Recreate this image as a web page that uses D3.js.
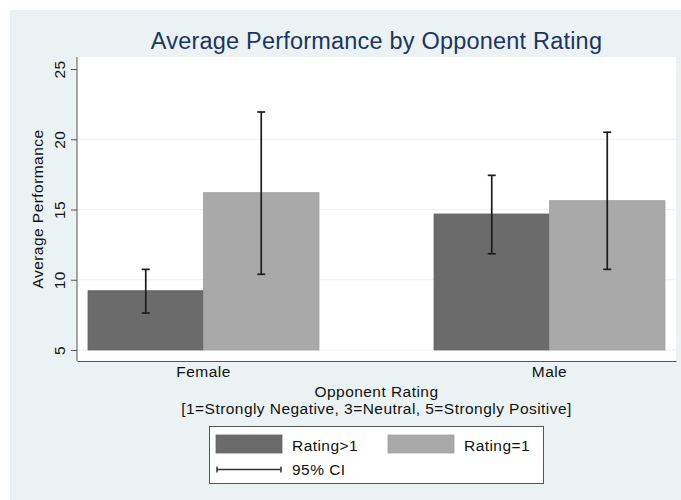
<!DOCTYPE html>
<html>
<head>
<meta charset="utf-8">
<script src="https://cdn.jsdelivr.net/npm/d3@7"></script>
<style>
  body { margin: 0; background: #fff; }
  svg { display: block; font-family: "Liberation Sans", Arial, Helvetica, sans-serif; }
  .lbl { font-size: 15.5px; letter-spacing: 0.45px; fill: #111; }
</style>
</head>
<body>
<svg id="chart" width="681" height="500"></svg>
<script>
/* Average performance by opponent rating, bars with 95% CI. */

const groups = ["Female", "Male"];
const series = ["Rating>1", "Rating=1"];
const means = [[9.22, 16.2], [14.68, 15.63]];
const lower = [[7.63, 10.39], [11.85, 10.74]];
const upper = [[10.74, 21.94], [17.43, 20.5]];
const yTicks = [5, 10, 15, 20, 25];
const gridTicks = [5, 10, 15, 20];

const colors = { "Rating>1": "#6b6b6b", "Rating=1": "#a9a9a9" };
const bg = "#eaf2f3";

const svg = d3.select("#chart");

// outer graph region
svg.append("rect")
  .attr("x", 10).attr("y", 10)
  .attr("width", 671).attr("height", 490)
  .attr("fill", bg);

const plot = { left: 77, right: 676, top: 57, bottom: 361 };

svg.append("rect")
  .attr("x", plot.left).attr("y", plot.top)
  .attr("width", plot.right - plot.left)
  .attr("height", plot.bottom - plot.top)
  .attr("fill", "#fff");

const x0 = d3.scaleBand()
  .domain(groups)
  .range([plot.left, plot.right])
  .paddingInner(0.3324)
  .paddingOuter(0.0318);

const x1 = d3.scaleBand()
  .domain(series)
  .range([0, x0.bandwidth()]);

const y = d3.scaleLinear().domain([5, 25]).range([350, 69]);

// gridlines
svg.append("g")
  .selectAll("line")
  .data(gridTicks)
  .join("line")
  .attr("x1", plot.left).attr("x2", plot.right)
  .attr("y1", (d) => y(d)).attr("y2", (d) => y(d))
  .attr("stroke", bg)
  .attr("stroke-width", 1.2);

// flatten rows
const rows = [];
groups.forEach((g, i) => {
  series.forEach((s, j) => {
    rows.push({ g, s, mean: means[i][j], lo: lower[i][j], hi: upper[i][j] });
  });
});

svg.append("g")
  .selectAll("rect")
  .data(rows)
  .join("rect")
  .attr("x", (d) => x0(d.g) + x1(d.s))
  .attr("width", x1.bandwidth())
  .attr("y", (d) => y(d.mean))
  .attr("height", (d) => y(5) - y(d.mean))
  .attr("fill", (d) => colors[d.s])
  .attr("stroke", (d) => d3.color(colors[d.s]).darker(0.15))
  .attr("stroke-width", 0.8);

// CI whiskers
const capW = 4;
const ci = svg.append("g")
  .attr("stroke", "#1c1c1c")
  .attr("stroke-width", 1.7)
  .selectAll("g")
  .data(rows)
  .join("g")
  .attr("transform", (d) => `translate(${x0(d.g) + x1(d.s) + x1.bandwidth() / 2},0)`);
ci.append("line")
  .attr("y1", (d) => y(d.lo)).attr("y2", (d) => y(d.hi));
ci.append("line")
  .attr("x1", -capW).attr("x2", capW)
  .attr("y1", (d) => y(d.hi)).attr("y2", (d) => y(d.hi));
ci.append("line")
  .attr("x1", -capW).attr("x2", capW)
  .attr("y1", (d) => y(d.lo)).attr("y2", (d) => y(d.lo));

// y axis
const yAxis = svg.append("g")
  .attr("transform", `translate(${plot.left},0)`)
  .call(d3.axisLeft(y).tickValues(yTicks).tickSize(6).tickSizeOuter(0));
yAxis.select(".domain").remove();
yAxis.selectAll(".tick line").attr("stroke", "#555");
yAxis.selectAll(".tick text")
  .attr("class", "lbl")
  .attr("transform", "rotate(-90)")
  .attr("x", 0).attr("y", -12).attr("dy", 0)
  .attr("text-anchor", "middle")
  .attr("font-size", null)
  .attr("font-family", null)
  .attr("fill", null);
svg.append("line")
  .attr("x1", plot.left).attr("x2", plot.left)
  .attr("y1", plot.top).attr("y2", plot.bottom)
  .attr("stroke", "#555").attr("stroke-width", 1);

// x axis
const xAxis = svg.append("g")
  .attr("transform", `translate(0,${plot.bottom})`)
  .call(d3.axisBottom(x0).tickSize(0).tickPadding(16));
xAxis.attr("font-size", null).attr("font-family", null);
xAxis.select(".domain").attr("stroke", "#555");
xAxis.selectAll(".tick text")
  .attr("class", "lbl")
  .attr("fill", null)
  .attr("dy", 0);

const cx = (plot.left + plot.right) / 2;

svg.append("text")
  .attr("x", cx).attr("y", 48.5)
  .attr("text-anchor", "middle")
  .attr("font-size", 23.5)
  .attr("letter-spacing", 0.2)
  .attr("fill", "#1d355f")
  .text("Average Performance by Opponent Rating");

svg.append("text")
  .attr("class", "lbl")
  .attr("transform", `translate(43,${(plot.top + plot.bottom) / 2}) rotate(-90)`)
  .attr("text-anchor", "middle")
  .text("Average Performance");

svg.append("text")
  .attr("class", "lbl")
  .attr("x", cx).attr("y", 397)
  .attr("text-anchor", "middle")
  .text("Opponent Rating");

svg.append("text")
  .attr("class", "lbl")
  .attr("x", cx).attr("y", 413.5)
  .attr("text-anchor", "middle")
  .text("[1=Strongly Negative, 3=Neutral, 5=Strongly Positive]");

// legend
const lg = svg.append("g");
lg.append("rect")
  .attr("x", 209.5).attr("y", 426.5)
  .attr("width", 334).attr("height", 57)
  .attr("fill", "#fff").attr("stroke", "#555").attr("stroke-width", 1);

const legendItems = [
  { s: series[0], x: 216 },
  { s: series[1], x: 388 },
];
legendItems.forEach((it) => {
  lg.append("rect")
    .attr("x", it.x).attr("y", 435)
    .attr("width", 66).attr("height", 18)
    .attr("fill", colors[it.s])
    .attr("stroke", d3.color(colors[it.s]).darker(0.15))
    .attr("stroke-width", 0.8);
  lg.append("text")
    .attr("class", "lbl")
    .attr("x", it.x + 76).attr("y", 450.5)
    .text(it.s);
});

lg.append("line")
  .attr("x1", 217).attr("x2", 281).attr("y1", 469.5).attr("y2", 469.5)
  .attr("stroke", "#333").attr("stroke-width", 1.5);
[217, 281].forEach((xx) => {
  lg.append("line")
    .attr("x1", xx).attr("x2", xx).attr("y1", 466.5).attr("y2", 472.5)
    .attr("stroke", "#333").attr("stroke-width", 1.5);
});
lg.append("text")
  .attr("class", "lbl")
  .attr("x", 292).attr("y", 474.5)
  .text("95% CI");
</script>
</body>
</html>
